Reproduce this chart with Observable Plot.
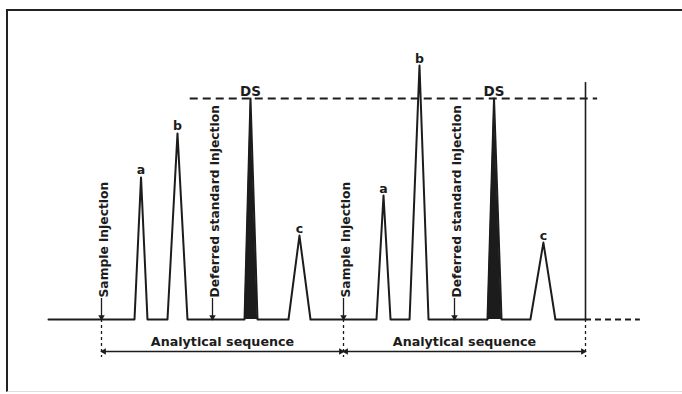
<!DOCTYPE html>
<html>
<head>
<meta charset="utf-8">
<script src="https://cdn.jsdelivr.net/npm/d3@7"></script>
<script src="https://cdn.jsdelivr.net/npm/@observablehq/plot@0.6"></script>
<style>
  html, body { margin: 0; padding: 0; background: #fff; }
  #wrap { position: relative; width: 682px; height: 394px; overflow: hidden; background: #fff; }
  #frame { position: absolute; left: 6px; top: 9px; right: -4px; bottom: 2px;
           border-left: 2px solid #222; border-top: 2px solid #222; border-bottom: 1px solid #ddd; }
  #chart { position: absolute; left: 0; top: 0; }
</style>
</head>
<body>
<div id="wrap"><div id="frame"></div><div id="chart"></div></div>
<script>
// ---- data (time in arbitrary minutes, signal relative to DS peak = 100) ----
const peakNames  = ["a", "b", "DS", "c", "a", "b", "DS", "c"];
const peakStart  = [4.09, 8.18, 17.73, 23.18, 34.09, 38.19, 47.85, 53.17];
const peakApex   = [4.90, 9.42, 18.47, 24.54, 34.96, 39.42, 48.66, 54.78];
const peakEnd    = [5.70, 10.66, 19.34, 25.91, 35.83, 40.54, 49.59, 56.27];
const peakHeight = [64.3, 84.2, 100, 38.0, 56.1, 114.9, 100, 34.8];

const injectionLabels = ["Sample injection", "Deferred standard injection", "Sample injection", "Deferred standard injection"];
const injectionTimes  = [0, 13.76, 30, 43.76];

const sequenceLabels = ["Analytical sequence", "Analytical sequence"];
const sequenceStart  = [0, 30];
const sequenceEnd    = [30, 60];

const runStart = -6.57, runEnd = 60, traceTail = 66.8;
const dsLevel = 100, dsLineFrom = 11.0, dsLineTo = 61.5;
const endMarkerTop = 107.2;

// ---- layout (signal units) ----
const labelLevel = 9.5, seqLabelLevel = -10, seqArrowLevel = -14.5, dashBottom = -17.2;
const ink = "#1c1c1c";
const font = "DejaVu Sans";

const peaks = peakNames.map((name, i) => ({name, i, t0: peakStart[i], t: peakApex[i], t1: peakEnd[i], h: peakHeight[i]}));
const trace = [{t: runStart, s: 0}];
peaks.forEach(p => trace.push({t: p.t0, s: 0}, {t: p.t, s: p.h}, {t: p.t1, s: 0}));
trace.push({t: runEnd, s: 0});
const dsFill = peaks.filter(p => p.name === "DS")
  .flatMap(p => [{t: p.t0, s: 0, z: p.i}, {t: p.t, s: p.h, z: p.i}, {t: p.t1, s: 0, z: p.i}]);
const injections = injectionLabels.map((label, i) => ({label, t: injectionTimes[i]}));
const sequences = sequenceLabels.map((label, i) => ({label, t0: sequenceStart[i], t1: sequenceEnd[i]}));
const boundaries = [...sequenceStart, sequenceEnd[sequenceEnd.length - 1]];

const chart = Plot.plot({
  width: 682, height: 394,
  margin: 0,
  x: {axis: null, domain: [0, 60], range: [101, 585]},
  y: {axis: null, domain: [0, 100], range: [319, 98]},
  style: {background: "transparent", overflow: "visible"},
  marks: [
    Plot.areaY(dsFill, {x: "t", y: "s", z: "z", fill: ink}),
    Plot.line(trace, {x: "t", y: "s", stroke: ink, strokeWidth: 2, strokeLinejoin: "round"}),
    Plot.ruleY([0], {x1: runEnd, x2: traceTail, stroke: ink, strokeWidth: 2, strokeDasharray: "6,4"}),
    Plot.ruleY([dsLevel], {x1: dsLineFrom, x2: dsLineTo, stroke: ink, strokeWidth: 2, strokeDasharray: "8,5"}),
    Plot.ruleX([runEnd], {y1: 0, y2: endMarkerTop, stroke: ink, strokeWidth: 1.6}),
    Plot.ruleX(boundaries, {y1: 0, y2: dashBottom, stroke: ink, strokeWidth: 1.3, strokeDasharray: "3,3"}),
    // injection arrows
    Plot.ruleX(injections, {x: "t", y1: labelLevel, y2: 0, stroke: ink, strokeWidth: 1.3}),
    Plot.dot(injections, {x: "t", y: 0, symbol: "triangle", rotate: 180, r: 2.4, fill: ink, stroke: null, dy: -2.5}),
    Plot.text(injections, {x: "t", y: labelLevel, text: "label", rotate: -90, textAnchor: "start", lineAnchor: "middle",
      dx: 3, dy: -1, fontSize: 12.3, fontWeight: "bold", fontFamily: font, fill: ink}),
    // sequence arrows
    Plot.link(sequences, {x1: "t0", x2: "t1", y1: seqArrowLevel, y2: seqArrowLevel, stroke: ink, strokeWidth: 1.5}),
    Plot.dot(sequences, {x: "t0", y: seqArrowLevel, symbol: "triangle", rotate: -90, r: 2.4, fill: ink, stroke: null, dx: 2.5}),
    Plot.dot(sequences, {x: "t1", y: seqArrowLevel, symbol: "triangle", rotate: 90, r: 2.4, fill: ink, stroke: null, dx: -2.5}),
    Plot.text(sequences, {x: d => (d.t0 + d.t1) / 2, y: seqLabelLevel, text: "label", lineAnchor: "middle",
      fontSize: 12.7, fontWeight: "bold", fontFamily: font, fill: ink}),
    // peak labels
    Plot.text(peaks, {x: "t", y: "h", text: "name", lineAnchor: "bottom", dy: -3,
      fontSize: d => d.name === "DS" ? 13.5 : 12.5, fontWeight: "bold", fontFamily: font, fill: ink})
  ]
});
document.getElementById("chart").appendChild(chart);
</script>
</body>
</html>
